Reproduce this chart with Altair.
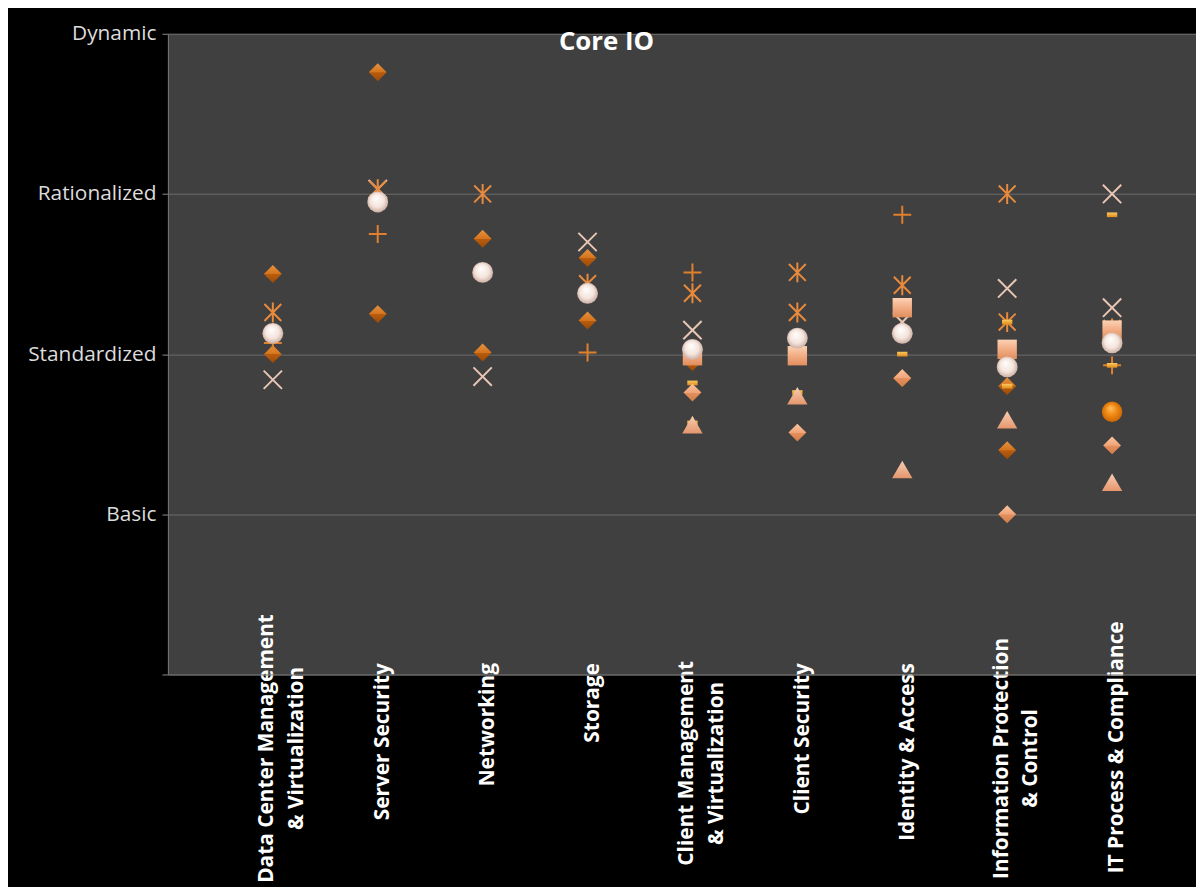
import json
import altair as alt
import pandas as pd

# ---------------- data ----------------
categories = [
    "Data Center Management|& Virtualization",
    "Server Security",
    "Networking",
    "Storage",
    "Client Management|& Virtualization",
    "Client Security",
    "Identity & Access",
    "Information Protection|& Control",
    "IT Process & Compliance",
]
y_levels = ["", "Basic", "Standardized", "Rationalized", "Dynamic"]

# series: category index (1..9) and maturity value (0..4)
diamond_dark_cat = [1, 1, 2, 2, 3, 3, 4, 4, 5, 7, 8, 8]
diamond_dark_val = [2.50, 2.00, 3.76, 2.25, 2.72, 2.01, 2.60, 2.21, 1.95, 1.85, 1.80, 1.40]

cross_cat = [1, 2, 3, 4, 5, 7, 8, 9, 9]
cross_val = [1.84, 3.03, 1.86, 2.70, 2.15, 2.20, 2.41, 3.00, 2.29]

asterisk_cat = [1, 2, 3, 4, 5, 6, 6, 7, 8, 8, 9]
asterisk_val = [2.26, 3.03, 3.00, 2.44, 2.38, 2.51, 2.26, 2.43, 3.00, 2.20, 2.16]

plus_cat = [1, 2, 4, 5, 7, 9]
plus_val = [2.07, 2.75, 2.01, 2.51, 2.87, 1.93]

dash_cat = [5, 5, 6, 7, 8, 8, 9, 9]
dash_val = [1.82, 1.57, 1.76, 2.00, 1.80, 2.20, 2.87, 1.93]

square_cat = [5, 6, 7, 8, 9]
square_val = [1.99, 1.99, 2.29, 2.03, 2.15]

diamond_light_cat = [5, 6, 7, 8, 9]
diamond_light_val = [1.76, 1.51, 1.85, 1.00, 1.43]

triangle_cat = [5, 6, 7, 8, 9]
triangle_val = [1.56, 1.74, 1.28, 1.59, 1.20]

circle_orange_cat = [9]
circle_orange_val = [1.64]

circle_white_cat = [1, 2, 3, 4, 5, 6, 7, 8, 9]
circle_white_val = [2.13, 2.95, 2.51, 2.38, 2.03, 2.10, 2.13, 1.92, 2.07]

# ---------------- styling ----------------
FONT = "Open Sans"

def lin(stops):
    return {"gradient": "linear", "x1": 0, "y1": 0, "x2": 0, "y2": 1,
            "stops": [{"offset": o, "color": c} for o, c in stops]}

def rad(stops):
    return {"gradient": "radial", "x1": 0.42, "y1": 0.3, "r1": 0,
            "x2": 0.5, "y2": 0.5, "r2": 0.55,
            "stops": [{"offset": o, "color": c} for o, c in stops]}

x_label_expr = "split(" + json.dumps(categories) + "[datum.value - 1], '|')"
y_label_expr = json.dumps(y_levels) + "[datum.value]"

multi_line_test = "datum.value == 1 || datum.value == 5 || datum.value == 8"

x_scale = alt.Scale(domain=[0, 9.8], nice=False, zero=False)
y_scale = alt.Scale(domain=[0, 4], nice=False)

x_axis = alt.Axis(
    values=list(range(1, 10)), labelExpr=x_label_expr, title=None,
    grid=False, ticks=False, tickSize=0, domain=True, domainColor="#767676",
    labelAngle=270,
    labelAlign={"condition": {"test": multi_line_test, "value": "center"}, "value": "right"},
    labelBaseline="middle",
    labelPadding={"condition": [
        {"test": "datum.value == 1", "value": 74},
        {"test": "datum.value == 5", "value": 89},
        {"test": "datum.value == 8", "value": 84},
        {"test": "datum.value == 9", "value": -54},
    ], "value": -12},
    labelOffset={"condition": {"test": multi_line_test, "value": -6}, "value": 5},
    labelFont=FONT, labelFontWeight="bold",
    labelFontSize=21, labelColor="#ffffff", labelLineHeight=30, labelLimit=0,
    labelOverlap=False, labelBound=False, labelFlush=False,
)
y_axis = alt.Axis(
    values=[0, 1, 2, 3, 4], labelExpr=y_label_expr, title=None,
    grid=True, gridColor="#6c6c6c", gridWidth=1,
    domain=True, domainColor="#767676", ticks=True, tickSize=6,
    tickColor="#8a8a8a", labelColor="#dcdcdc", labelFont=FONT,
    labelFontSize=21, labelPadding=6, labelOverlap=False, labelFlush=False,
)

X_PATH = "M-0.9,-0.9L0.9,0.9M-0.9,0.9L0.9,-0.9"
AST_PATH = "M-0.85,-0.85L0.85,0.85M-0.85,0.85L0.85,-0.85M0,-1L0,1"
PLUS_PATH = "M-1,0L1,0M0,-1L0,1"
DASH_PATH = "M-0.55,-0.25L0.55,-0.25L0.55,0.25L-0.55,0.25Z"


def layer(cats, vals, **mark):
    df = pd.DataFrame({"cat": cats, "val": vals})
    return alt.Chart(df).mark_point(opacity=1, **mark).encode(
        x=alt.X("cat:Q", scale=x_scale, axis=x_axis),
        y=alt.Y("val:Q", scale=y_scale, axis=y_axis),
    )


layers = [
    layer(diamond_dark_cat, diamond_dark_val, shape="diamond", filled=True,
          fill=lin([(0, "#e6913f"), (0.5, "#d4741c"), (0.52, "#b85d0e"), (1, "#9c4a06")]),
          strokeWidth=0, size=324),
    layer(cross_cat, cross_val, shape=X_PATH, filled=False, stroke="#e8c6b4",
          strokeWidth=2, size=420),
    layer(asterisk_cat, asterisk_val, shape=AST_PATH, filled=False, stroke="#e88a3c",
          strokeWidth=2, size=400),
    layer(plus_cat, plus_val, shape=PLUS_PATH, filled=False, stroke="#e0802c",
          strokeWidth=2, size=324),
    layer(dash_cat, dash_val, shape=DASH_PATH, filled=True,
          fill=lin([(0, "#fbc860"), (1, "#e08c1c")]), strokeWidth=0, size=360),
    layer(square_cat, square_val, shape="square", filled=True,
          fill=lin([(0, "#fbd2b4"), (0.5, "#f2ac84"), (1, "#e08e5e")]),
          strokeWidth=0, size=380),
    layer(diamond_light_cat, diamond_light_val, shape="diamond", filled=True,
          fill=lin([(0, "#fac4a0"), (0.5, "#f0a478"), (0.52, "#e4905e"), (1, "#d27c48")]),
          strokeWidth=0, size=324),
    layer(triangle_cat, triangle_val, shape="triangle-up", filled=True,
          fill=lin([(0, "#f8cdb4"), (1, "#e4966c")]), strokeWidth=0, size=420),
    layer(circle_orange_cat, circle_orange_val, shape="circle", filled=True,
          fill=rad([(0, "#ffc060"), (0.5, "#f08a14"), (1, "#c86200")]),
          strokeWidth=0, size=420),
    layer(circle_white_cat, circle_white_val, shape="circle", filled=True,
          fill=rad([(0, "#ffffff"), (0.6, "#f4e4dc"), (1, "#c4a498")]),
          strokeWidth=0, size=440),
]

chart = alt.layer(*layers).properties(
    width=1035,
    height=645,
    padding={"left": 161, "top": 23, "right": 0, "bottom": 211},
    autosize=alt.AutoSizeParams(type="none"),
    background="#000000",
    title=alt.TitleParams(
        "Core IO", anchor="middle", frame="group", dx=-76, offset=-32,
        fontSize=26, font=FONT, fontWeight="bold", color="#ffffff",
    ),
).configure_view(fill="#404040", stroke=None)

chart.save("out.html", embed_options={"renderer": "svg", "actions": False})
